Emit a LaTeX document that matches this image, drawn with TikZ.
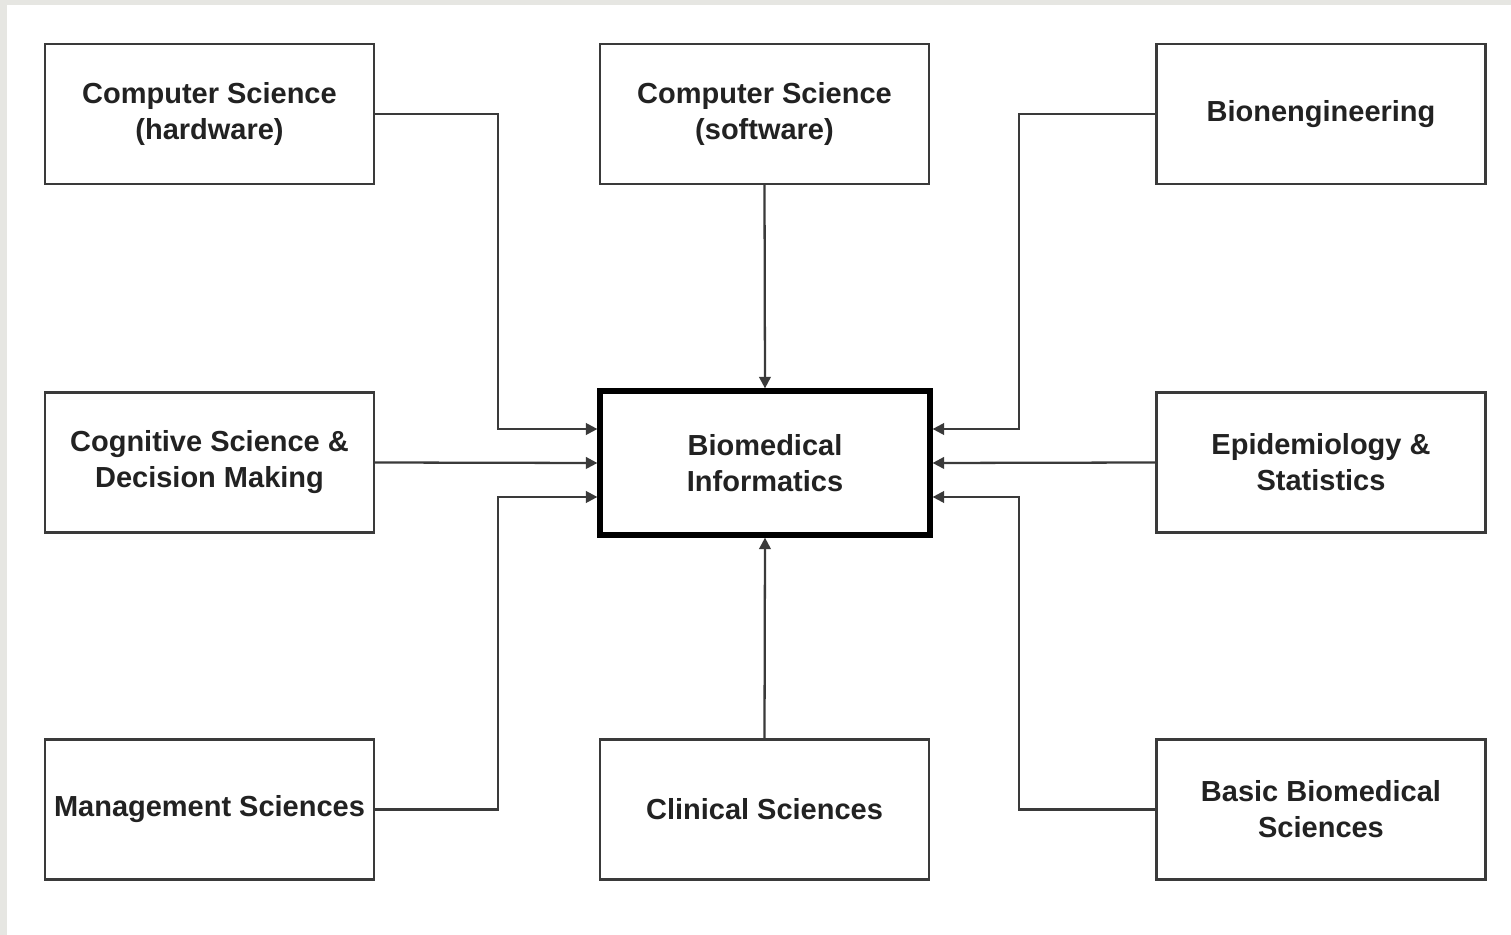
\documentclass[tikz,border=0pt]{standalone}
\usepackage{fontspec}
\setmainfont{Liberation Sans}
\usetikzlibrary{arrows.meta}
\definecolor{edgegray}{HTML}{E6E6E2}
\definecolor{linegray}{HTML}{3A3A3A}
\definecolor{txt}{HTML}{222222}
\tikzset{
  box/.style={draw=linegray, line width=1.4pt, fill=white, rectangle, inner sep=0pt,
    minimum width=6.58cm, minimum height=2.8cm, align=center, text=txt,
    font=\bfseries\fontsize{16.5}{20.5}\selectfont},
  mainbox/.style={box, draw=black, line width=3pt, minimum width=6.6cm, minimum height=2.88cm},
  conn/.style={draw=linegray, line width=1.3pt},
  arr/.style={conn, -{Triangle[length=6.5pt,width=6.5pt]}}
}
\begin{document}
\begin{tikzpicture}[x=0.02cm, y=-0.02cm]
\useasboundingbox (0,0) rectangle (1511,935);
\fill[white] (0,0) rectangle (1511,935);
\fill[edgegray] (0,0) rectangle (1511,5);
\fill[edgegray] (0,0) rectangle (7,935);

\node[box] (hw) at (209.5,114) {Computer Science\\(hardware)};
\node[box] (sw) at (764.5,114) {Computer Science\\(software)};
\node[box] (be) at (1321,114) {Bionengineering};
\node[box] (cog) at (209.5,462.5) {Cognitive Science \&\\Decision Making};
\node[mainbox] (bi) at (765,463) {Biomedical\\Informatics};
\node[box] (epi) at (1321,462.5) {Epidemiology \&\\Statistics};
\node[box] (mgmt) at (209.5,809.5) {Management Sciences};
\node[box] (cli) at (764.5,809.5) {Clinical Sciences};
\node[box] (bas) at (1321,809.5) {Basic Biomedical\\Sciences};

\coordinate (jl) at (498,462);
\coordinate (jr) at (1019,462);
\coordinate (bw1) at ([yshift=0.68cm]bi.west);
\coordinate (bw3) at ([yshift=-0.68cm]bi.west);
\coordinate (be1) at ([yshift=0.68cm]bi.east);
\coordinate (be3) at ([yshift=-0.68cm]bi.east);

\draw[arr] (hw.east) -- (hw.east -| jl) |- (bw1);
\draw[arr] (cog.east) -- (bi.west);
\draw[arr] (mgmt.east) -- (mgmt.east -| jl) |- (bw3);
\draw[arr] (sw.south) -- (bi.north);
\draw[arr] (cli.north) -- (bi.south);
\draw[arr] (be.west) -- (be.west -| jr) |- (be1);
\draw[arr] (epi.west) -- (bi.east);
\draw[arr] (bas.west) -- (bas.west -| jr) |- (be3);
\end{tikzpicture}
\end{document}
